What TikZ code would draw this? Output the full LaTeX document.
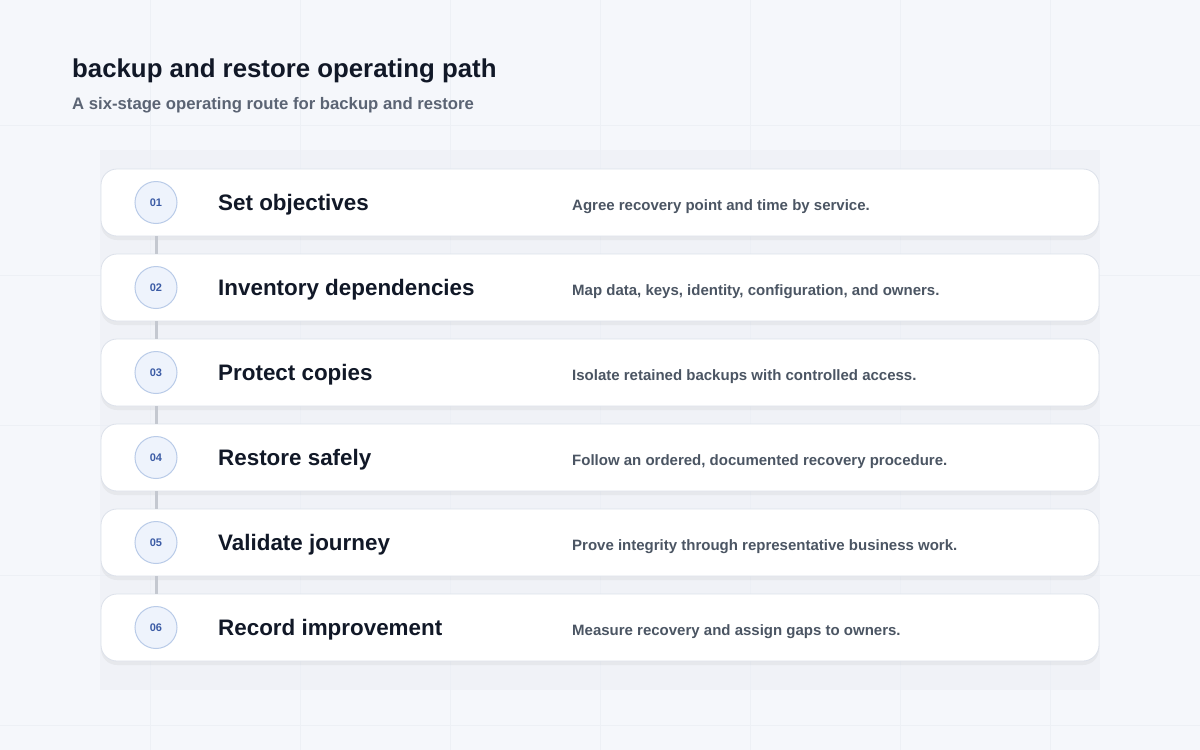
\documentclass[tikz,border=0pt]{standalone}
\usepackage{fontspec}
\setmainfont{Liberation Sans}
\usetikzlibrary{shadows}

\definecolor{pagebg}{HTML}{F5F7FB}
\definecolor{gridln}{HTML}{EDF0F5}
\definecolor{panelbg}{HTML}{ECEFF5}
\definecolor{cardln}{HTML}{DCE1EA}
\definecolor{ink}{HTML}{111827}
\definecolor{subink}{HTML}{5B6474}
\definecolor{descink}{HTML}{4B5563}
\definecolor{numink}{HTML}{3B5BA5}
\definecolor{numfill}{HTML}{EEF3FC}
\definecolor{numln}{HTML}{B9CBE8}
\definecolor{linkln}{HTML}{C4C8D0}

\tikzset{
  card/.style={draw=cardln, line width=0.8pt, fill=white, rounded corners=16pt,
    minimum width=998pt, minimum height=67pt,
    drop shadow={shadow xshift=0pt, shadow yshift=-4pt, opacity=0.06, fill=black!70}},
  stepnum/.style={circle, draw=numln, line width=1pt, fill=numfill, minimum size=42pt,
    inner sep=0pt, text=numink, font=\bfseries\fontsize{11}{13}\selectfont},
  steptitle/.style={anchor=west, inner sep=0pt, text=ink, font=\bfseries\fontsize{22.4}{26}\selectfont},
  stepdesc/.style={anchor=west, inner sep=0pt, text=descink, font=\bfseries\fontsize{15}{18}\selectfont},
  link/.style={draw=linkln, line width=3pt}
}

\begin{document}
\begin{tikzpicture}[x=1pt, y=-1pt]
	% background and faint grid
	\fill[pagebg] (0,0) rectangle (1200,750);
	\useasboundingbox (0,0) rectangle (1200,750);
	\draw[gridln, line width=0.8pt] (150,0)--(150,750) (300,0)--(300,750) (450,0)--(450,750)
		(600,0)--(600,750) (750,0)--(750,750) (900,0)--(900,750) (1050,0)--(1050,750);
	\draw[gridln, line width=0.8pt] (0,125)--(1200,125) (0,275)--(1200,275) (0,425)--(1200,425)
		(0,575)--(1200,575) (0,725)--(1200,725);
	\fill[panelbg, opacity=0.5] (100,150) rectangle (1100,690);

	% heading
	\node[anchor=base west, inner sep=0pt, text=ink, font=\bfseries\fontsize{25.8}{30}\selectfont] (head) at (72,77) {backup and restore operating path};
	\node[anchor=base west, inner sep=0pt, text=subink, font=\bfseries\fontsize{16.7}{20}\selectfont] (sub) at (72,109) {A six-stage operating route for backup and restore};

	% cards
	\node[card] (c1) at (600,202.5) {};
	\node[card] (c2) at (600,287.5) {};
	\node[card] (c3) at (600,372.5) {};
	\node[card] (c4) at (600,457.5) {};
	\node[card] (c5) at (600,542.5) {};
	\node[card] (c6) at (600,627.5) {};

	% numbers
	\node[stepnum] (n1) at (156,202.5) {01};
	\node[stepnum] (n2) at (156,287.5) {02};
	\node[stepnum] (n3) at (156,372.5) {03};
	\node[stepnum] (n4) at (156,457.5) {04};
	\node[stepnum] (n5) at (156,542.5) {05};
	\node[stepnum] (n6) at (156,627.5) {06};

	% links between cards
	\draw[link] (n1 |- c1.south)--(n2 |- c2.north);
	\draw[link] (n2 |- c2.south)--(n3 |- c3.north);
	\draw[link] (n3 |- c3.south)--(n4 |- c4.north);
	\draw[link] (n4 |- c4.south)--(n5 |- c5.north);
	\draw[link] (n5 |- c5.south)--(n6 |- c6.north);

	% titles
	\node[steptitle] (t1) at (218,204.5) {Set objectives};
	\node[steptitle] (t2) at (218,289.5) {Inventory dependencies};
	\node[steptitle] (t3) at (218,374.5) {Protect copies};
	\node[steptitle] (t4) at (218,459.5) {Restore safely};
	\node[steptitle] (t5) at (218,544.5) {Validate journey};
	\node[steptitle] (t6) at (218,629.5) {Record improvement};

	% descriptions
	\node[stepdesc] (d1) at (572,207) {Agree recovery point and time by service.};
	\node[stepdesc] (d2) at (572,292) {Map data, keys, identity, configuration, and owners.};
	\node[stepdesc] (d3) at (572,377) {Isolate retained backups with controlled access.};
	\node[stepdesc] (d4) at (572,462) {Follow an ordered, documented recovery procedure.};
	\node[stepdesc] (d5) at (572,547) {Prove integrity through representative business work.};
	\node[stepdesc] (d6) at (572,632) {Measure recovery and assign gaps to owners.};
\end{tikzpicture}
\end{document}
